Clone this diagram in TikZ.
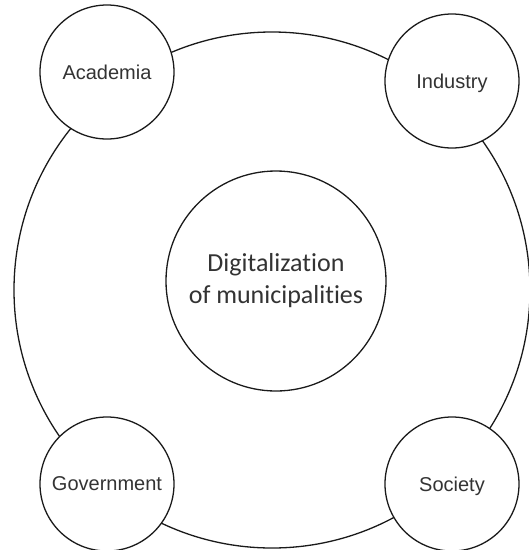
\documentclass[tikz,border=0pt]{standalone}
\usepackage{fontspec}
\newfontfamily\actorfont{Liberation Sans}
\newfontfamily\topicfont[Ligatures={NoCommon}]{Carlito}
\definecolor{linecol}{HTML}{1A1A1A}
\definecolor{txtcol}{HTML}{333333}
\begin{document}
\begin{tikzpicture}[x=1pt,y=-1pt,
  ring/.style={circle, draw=linecol, line width=1.3pt, inner sep=0pt, minimum size=516pt},
  actor/.style={circle, draw=linecol, fill=white, line width=1.3pt, minimum size=134pt,
    inner sep=0pt, text=txtcol, text depth=0pt, font={\actorfont\fontsize{20}{24}\selectfont}},
  topic/.style={circle, draw=linecol, fill=white, line width=1.3pt, minimum size=220pt,
    inner sep=0pt, text=txtcol, align=center, font={\topicfont\fontsize{26}{32}\selectfont}}]
\useasboundingbox (0,0) rectangle (529,550);
\node[ring] (outer) at (272,290) {};
\node[topic] (center) at (276,281) {Digitalization\\of municipalities};
\node[actor] (academia) at (107,72) {Academia};
\node[actor] (industry) at (452,81) {Industry};
\node[actor] (government) at (107,484) {Government};
\node[actor] (society) at (452,484) {Society};
\end{tikzpicture}
\end{document}
